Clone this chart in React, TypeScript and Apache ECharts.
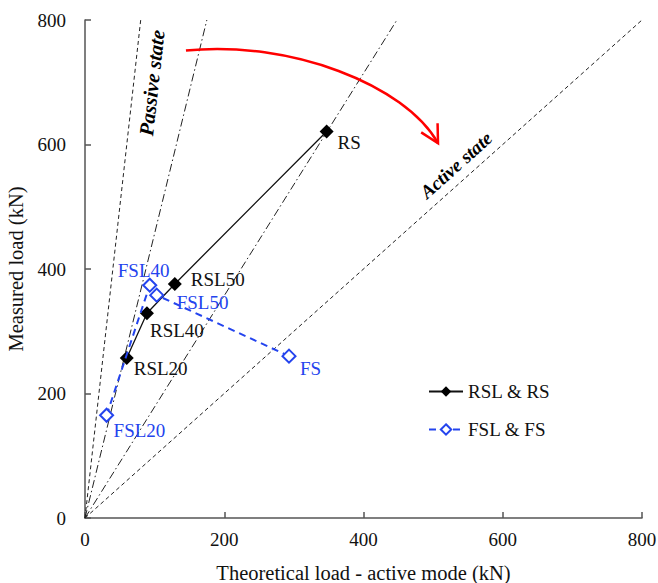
import React, { useEffect, useRef } from "react";
import * as echarts from "echarts";

// Measured vs theoretical (active mode) loads
const rNames = ["RSL20", "RSL40", "RSL50", "RS"];
const rTheoretical = [60, 89, 129, 347];
const rMeasured = [257, 329, 376, 621];

const fNames = ["FSL20", "FSL40", "FSL50", "FS"];
const fTheoretical = [31, 93, 103, 293];
const fMeasured = [165, 374, 358, 260];

// Reference lines through the origin: [theoretical at top, measured at top]
const passiveLine = [[0, 0], [80, 800]];
const ratioLineA = [[0, 0], [175, 800]];
const ratioLineB = [[0, 0], [448, 800]];
const activeLine = [[0, 0], [800, 800]];

const axisTicks = [0, 200, 400, 600, 800];

const FONT = "Liberation Serif";
const BLUE = "#2444ee";

// label offsets (left edge, vertical centre) relative to each marker
const rLabelOffsets = [[7, 10], [3, 17], [16, -4], [11, 11]];
const fLabelOffsets = [[7, 15], [-32, -15], [20, 7], [11, 12]];

function buildPoints(names: string[], xs: number[], ys: number[], offs: number[][], color: string) {
  return xs.map((x, i) => ({
    value: [x, ys[i]],
    name: names[i],
    label: {
      show: true,
      position: "inside",
      align: "left",
      verticalAlign: "middle",
      offset: offs[i],
      formatter: names[i],
      color,
      fontFamily: FONT,
      fontSize: 19,
    },
  }));
}

function refSeries(data: number[][], type: any) {
  return {
    type: "line",
    data,
    symbol: "none",
    silent: true,
    lineStyle: { color: "#222", width: 1, type },
    z: 1,
  };
}

export default function App() {
  const ref = useRef<HTMLDivElement>(null);

  useEffect(() => {
    const chart = echarts.init(ref.current!, null, { renderer: "svg" });
    const axisCommon = {
      type: "value",
      min: axisTicks[0],
      max: axisTicks[axisTicks.length - 1],
      interval: axisTicks[1] - axisTicks[0],
      nameLocation: "middle",
      nameTextStyle: { fontFamily: FONT, fontSize: 20.5, color: "#111" },
      axisLine: { show: true, lineStyle: { color: "#555", width: 1.5 } },
      axisTick: { show: true, inside: true, length: 6, lineStyle: { color: "#555", width: 1.5 } },
      axisLabel: { fontFamily: FONT, fontSize: 19, color: "#111" },
      splitLine: { show: false },
    };
    chart.setOption({
      animation: false,
      backgroundColor: "#fff",
      textStyle: { fontFamily: FONT },
      grid: { left: 85, top: 20, width: 557, height: 498, outerBoundsMode: "none", containLabel: false },
      xAxis: {
        ...axisCommon,
        name: "Theoretical load - active mode (kN)",
        nameGap: 44,
        axisLabel: { ...axisCommon.axisLabel, margin: 12 },
      },
      yAxis: {
        ...axisCommon,
        name: "Measured load (kN)",
        nameGap: 55,
        axisLabel: { ...axisCommon.axisLabel, margin: 19 },
      },
      legend: {
        orient: "vertical",
        left: 423,
        top: 376,
        itemWidth: 34,
        itemHeight: 13,
        itemGap: 17,
        textStyle: { fontFamily: FONT, fontSize: 19, color: "#111", lineHeight: 21 },
        data: ["RSL & RS", "FSL & FS"],
      },
      series: [
        refSeries(passiveLine, [4, 3]),
        refSeries(ratioLineA, [8, 3, 1.5, 3]),
        refSeries(ratioLineB, [8, 3, 1.5, 3]),
        refSeries(activeLine, [4, 3]),
        {
          name: "RSL & RS",
          type: "line",
          data: buildPoints(rNames, rTheoretical, rMeasured, rLabelOffsets, "#111"),
          symbol: "diamond",
          symbolSize: 14,
          lineStyle: { color: "#111", width: 1.3 },
          itemStyle: { color: "#000" },
          z: 3,
        },
        {
          name: "FSL & FS",
          type: "line",
          data: buildPoints(fNames, fTheoretical, fMeasured, fLabelOffsets, BLUE),
          symbol: "diamond",
          symbolSize: 13,
          lineStyle: { color: BLUE, width: 2, type: [7, 5] },
          itemStyle: { color: "#fff", borderColor: BLUE, borderWidth: 2 },
          z: 4,
        },
      ],
    });

    // Annotations positioned in data space
    const px = (p: number[]) => chart.convertToPixel({ gridIndex: 0 }, p) as number[];
    const p0 = px([145, 751]);
    const c1 = px([294, 768]);
    const c2 = px([460, 696]);
    const p3 = px([507, 602]);
    const tx = c2[0] - p3[0];
    const ty = c2[1] - p3[1];
    const tl = Math.hypot(tx, ty);
    const ux = tx / tl;
    const uy = ty / tl;
    const head = 20;
    const ang = (28 * Math.PI) / 180;
    const rot = (a: number) => [
      p3[0] + head * (ux * Math.cos(a) - uy * Math.sin(a)),
      p3[1] + head * (ux * Math.sin(a) + uy * Math.cos(a)),
    ];
    const arm1 = rot(ang);
    const arm2 = rot(-ang);

    const angleOf = (line: number[][]) => {
      const a = px(line[0]);
      const b = px(line[1]);
      return Math.atan2(a[1] - b[1], b[0] - a[0]);
    };
    const passivePos = px([96, 699]);
    const activePos = px([533, 567]);

    chart.setOption({
      graphic: [
        {
          type: "bezierCurve",
          shape: { x1: p0[0], y1: p0[1], cpx1: c1[0], cpy1: c1[1], cpx2: c2[0], cpy2: c2[1], x2: p3[0], y2: p3[1] },
          style: { stroke: "#ff0000", lineWidth: 2.5, fill: "none" },
          z: 10,
        },
        {
          type: "polyline",
          shape: { points: [arm1, p3, arm2] },
          style: { stroke: "#ff0000", lineWidth: 2.5, fill: "none" },
          z: 10,
        },
        {
          type: "text",
          x: passivePos[0],
          y: passivePos[1],
          rotation: angleOf(passiveLine),
          style: {
            text: "Passive state",
            fontFamily: FONT,
            fontSize: 20.5,
            fontWeight: "bold",
            fontStyle: "italic",
            fill: "#000",
            align: "center",
            verticalAlign: "middle",
          },
          z: 10,
        },
        {
          type: "text",
          x: activePos[0],
          y: activePos[1],
          rotation: angleOf(activeLine),
          style: {
            text: "Active state",
            fontFamily: FONT,
            fontSize: 19,
            fontWeight: "bold",
            fontStyle: "italic",
            fill: "#000",
            align: "center",
            verticalAlign: "middle",
          },
          z: 10,
        },
      ],
    });

    return () => chart.dispose();
  }, []);

  return (
    <div
      ref={ref}
      style={{ position: "fixed", left: 0, top: 0, width: 658, height: 583, background: "#fff" }}
    />
  );
}
